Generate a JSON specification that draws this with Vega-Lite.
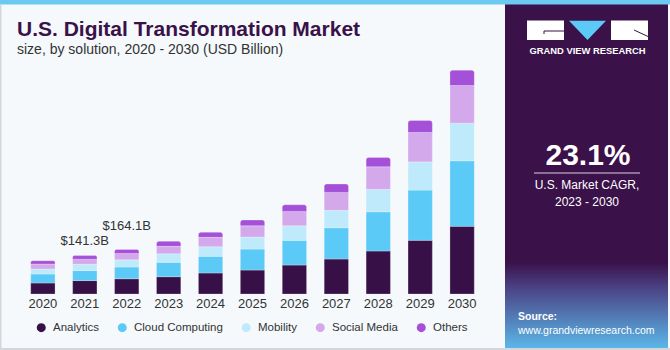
{
  "$schema": "https://vega.github.io/schema/vega-lite/v6.json",
  "width": 505,
  "height": 294,
  "autosize": "none",
  "padding": {"left": 0, "top": 0, "right": 165, "bottom": 56},
  "background": "#f5f9fc",
  "title": {
    "text": "U.S. Digital Transformation Market",
    "subtitle": "size, by solution, 2020 - 2030 (USD Billion)",
    "anchor": "start",
    "frame": "group",
    "dx": 17,
    "offset": -57,
    "font": "Liberation Sans",
    "fontSize": 21,
    "fontWeight": "bold",
    "color": "#3a1149",
    "subtitleFont": "Liberation Sans",
    "subtitleFontSize": 14,
    "subtitleColor": "#333333",
    "subtitlePadding": 3
  },
  "datasets": {
    "market": [
      {"year": "2020", "segment": "Analytics", "value": 40.4},
      {"year": "2020", "segment": "Cloud Computing", "value": 33.1},
      {"year": "2020", "segment": "Mobility", "value": 18.4},
      {"year": "2020", "segment": "Social Media", "value": 18.4},
      {"year": "2020", "segment": "Others", "value": 12.1},
      {"year": "2021", "segment": "Analytics", "value": 49.4},
      {"year": "2021", "segment": "Cloud Computing", "value": 36.8},
      {"year": "2021", "segment": "Mobility", "value": 23.5},
      {"year": "2021", "segment": "Social Media", "value": 18.4},
      {"year": "2021", "segment": "Others", "value": 13.2},
      {"year": "2022", "segment": "Analytics", "value": 56.1},
      {"year": "2022", "segment": "Cloud Computing", "value": 43.0},
      {"year": "2022", "segment": "Mobility", "value": 26.8},
      {"year": "2022", "segment": "Social Media", "value": 23.5},
      {"year": "2022", "segment": "Others", "value": 14.7},
      {"year": "2023", "segment": "Analytics", "value": 63.6},
      {"year": "2023", "segment": "Cloud Computing", "value": 52.9},
      {"year": "2023", "segment": "Mobility", "value": 31.6},
      {"year": "2023", "segment": "Social Media", "value": 27.2},
      {"year": "2023", "segment": "Others", "value": 18.4},
      {"year": "2024", "segment": "Analytics", "value": 77.2},
      {"year": "2024", "segment": "Cloud Computing", "value": 61.4},
      {"year": "2024", "segment": "Mobility", "value": 35.3},
      {"year": "2024", "segment": "Social Media", "value": 34.6},
      {"year": "2024", "segment": "Others", "value": 18.4},
      {"year": "2025", "segment": "Analytics", "value": 88.2},
      {"year": "2025", "segment": "Cloud Computing", "value": 77.2},
      {"year": "2025", "segment": "Mobility", "value": 44.1},
      {"year": "2025", "segment": "Social Media", "value": 41.5},
      {"year": "2025", "segment": "Others", "value": 21.0},
      {"year": "2026", "segment": "Analytics", "value": 106.6},
      {"year": "2026", "segment": "Cloud Computing", "value": 90.8},
      {"year": "2026", "segment": "Mobility", "value": 53.7},
      {"year": "2026", "segment": "Social Media", "value": 52.9},
      {"year": "2026", "segment": "Others", "value": 24.3},
      {"year": "2027", "segment": "Analytics", "value": 128.7},
      {"year": "2027", "segment": "Cloud Computing", "value": 115.1},
      {"year": "2027", "segment": "Mobility", "value": 64.0},
      {"year": "2027", "segment": "Social Media", "value": 66.2},
      {"year": "2027", "segment": "Others", "value": 30.5},
      {"year": "2028", "segment": "Analytics", "value": 158.1},
      {"year": "2028", "segment": "Cloud Computing", "value": 144.5},
      {"year": "2028", "segment": "Mobility", "value": 82.4},
      {"year": "2028", "segment": "Social Media", "value": 83.1},
      {"year": "2028", "segment": "Others", "value": 34.6},
      {"year": "2029", "segment": "Analytics", "value": 197.4},
      {"year": "2029", "segment": "Cloud Computing", "value": 184.9},
      {"year": "2029", "segment": "Mobility", "value": 104.0},
      {"year": "2029", "segment": "Social Media", "value": 108.1},
      {"year": "2029", "segment": "Others", "value": 44.1},
      {"year": "2030", "segment": "Analytics", "value": 248.9},
      {"year": "2030", "segment": "Cloud Computing", "value": 241.2},
      {"year": "2030", "segment": "Mobility", "value": 138.6},
      {"year": "2030", "segment": "Social Media", "value": 138.6},
      {"year": "2030", "segment": "Others", "value": 56.3}
    ],
    "labels": [
      {"year": "2021", "total": 141.3, "label": "$141.3B"},
      {"year": "2022", "total": 164.1, "label": "$164.1B"}
    ]
  },
  "layer": [
    {
      "data": {"values": [{}]},
      "mark": {"type": "rect", "color": "#3a1149"},
      "encoding": {"x": {"value": 505}, "x2": {"value": 668}, "y": {"value": 4}, "y2": {"value": 348}}
    },
    {
      "data": {"values": [{}]},
      "mark": {
        "type": "rect",
        "fill": {
          "gradient": "linear", "x1": 0, "y1": 0, "x2": 0, "y2": 1,
          "stops": [
            {"offset": 0, "color": "#3a1149"},
            {"offset": 0.28, "color": "#4a3f82"},
            {"offset": 1, "color": "#5bb7e8"}
          ]
        }
      },
      "encoding": {"x": {"value": 505}, "x2": {"value": 668}, "y": {"value": 262}, "y2": {"value": 348}}
    },
    {
      "data": {"values": [{}]},
      "mark": {"type": "rect", "color": "#6ccaf0"},
      "encoding": {"x": {"value": 0}, "x2": {"value": 670}, "y": {"value": 0}, "y2": {"value": 4.5}}
    },
    {
      "data": {"values": [{}]},
      "mark": {"type": "rect", "color": "#d3d6da"},
      "encoding": {"x": {"value": 0}, "x2": {"value": 670}, "y": {"value": 348}, "y2": {"value": 350}}
    },
    {
      "data": {"values": [{}]},
      "mark": {"type": "rect", "color": "#d3d6da"},
      "encoding": {"x": {"value": 0}, "x2": {"value": 1.5}, "y": {"value": 4.5}, "y2": {"value": 350}}
    },
    {
      "data": {"name": "market"},
      "transform": [
        {"calculate": "indexof(['Analytics','Cloud Computing','Mobility','Social Media','Others'], datum.segment)", "as": "ord"},
        {"stack": "value", "groupby": ["year"], "sort": [{"field": "ord", "order": "ascending"}], "as": ["v0", "v1"]},
        {"filter": "datum.segment !== 'Others'"}
      ],
      "mark": {"type": "bar", "stroke": "#ffffff", "strokeOpacity": 0.35, "strokeWidth": 0.7},
      "encoding": {
        "x": {
          "field": "year", "type": "ordinal",
          "scale": {"paddingInner": 0.42, "paddingOuter": 0.733},
          "axis": {"title": null, "labelAngle": 0, "domain": false, "ticks": false, "tickSize": 0, "labelPadding": 3, "labelFontSize": 13, "labelColor": "#333333", "labelFont": "Liberation Sans", "grid": false}
        },
        "y": {"field": "v1", "type": "quantitative", "scale": {"domain": [0, 1082], "nice": false, "zero": true}, "axis": null},
        "y2": {"field": "v0"},
        "color": {
          "field": "segment", "type": "nominal",
          "scale": {
            "domain": ["Analytics", "Cloud Computing", "Mobility", "Social Media", "Others"],
            "range": ["#381048", "#5ccaf6", "#bfeafb", "#d4a9ec", "#a550d8"]
          },
          "legend": {
            "title": null, "orient": "none", "legendX": 35.5, "legendY": 321.5,
            "direction": "horizontal", "symbolType": "circle", "symbolSize": 81,
            "symbolStrokeWidth": 0, "labelFontSize": 11.5, "labelColor": "#333333",
            "labelFont": "Liberation Sans", "labelOffset": 6, "columnPadding": 17, "padding": 0
          }
        }
      }
    },
    {
      "data": {"name": "market"},
      "transform": [
        {"calculate": "indexof(['Analytics','Cloud Computing','Mobility','Social Media','Others'], datum.segment)", "as": "ord"},
        {"stack": "value", "groupby": ["year"], "sort": [{"field": "ord", "order": "ascending"}], "as": ["v0", "v1"]},
        {"filter": "datum.segment === 'Others'"}
      ],
      "mark": {"type": "bar", "cornerRadiusTopLeft": 2.5, "cornerRadiusTopRight": 2.5, "stroke": "#ffffff", "strokeOpacity": 0.35, "strokeWidth": 0.7},
      "encoding": {
        "x": {"field": "year", "type": "ordinal"},
        "y": {"field": "v1", "type": "quantitative"},
        "y2": {"field": "v0"},
        "color": {"field": "segment", "type": "nominal"}
      }
    },
    {
      "data": {"name": "labels"},
      "transform": [{"filter": "datum.year === '2021'"}],
      "mark": {"type": "text", "baseline": "alphabetic", "align": "center", "dy": -11, "fontSize": 13, "font": "Liberation Sans", "color": "#333333"},
      "encoding": {"x": {"field": "year", "type": "ordinal"}, "y": {"field": "total", "type": "quantitative"}, "text": {"field": "label"}}
    },
    {
      "data": {"name": "labels"},
      "transform": [{"filter": "datum.year === '2022'"}],
      "mark": {"type": "text", "baseline": "alphabetic", "align": "center", "dy": -19.5, "fontSize": 13, "font": "Liberation Sans", "color": "#333333"},
      "encoding": {"x": {"field": "year", "type": "ordinal"}, "y": {"field": "total", "type": "quantitative"}, "text": {"field": "label"}}
    },
    {
      "data": {"values": [{}]},
      "mark": {"type": "rect", "color": "#ffffff"},
      "encoding": {"x": {"value": 527}, "x2": {"value": 564}, "y": {"value": 20.5}, "y2": {"value": 40}}
    },
    {
      "data": {"values": [{}]},
      "mark": {"type": "rect", "color": "#ffffff"},
      "encoding": {"x": {"value": 611}, "x2": {"value": 648}, "y": {"value": 20.5}, "y2": {"value": 40}}
    },
    {
      "data": {"values": [{}]},
      "mark": {"type": "point", "filled": true, "color": "#5ccaf6", "opacity": 1, "shape": "M-1,-0.52L1,-0.52L0,0.52Z", "size": 1369},
      "encoding": {"x": {"value": 587.5}, "y": {"value": 30.3}}
    },
    {
      "data": {"values": [{}]},
      "mark": {"type": "rule", "color": "#3a1149", "strokeWidth": 1},
      "encoding": {"x": {"value": 544}, "x2": {"value": 564}, "y": {"value": 31}, "y2": {"value": 31}}
    },
    {
      "data": {"values": [{}]},
      "mark": {"type": "rule", "color": "#3a1149", "strokeWidth": 1},
      "encoding": {"x": {"value": 544}, "x2": {"value": 544}, "y": {"value": 31}, "y2": {"value": 34}}
    },
    {
      "data": {"values": [{}]},
      "mark": {"type": "rule", "color": "#3a1149", "strokeWidth": 1},
      "encoding": {"x": {"value": 634}, "x2": {"value": 648}, "y": {"value": 30}, "y2": {"value": 36.5}}
    },
    {
      "data": {"values": [{"t": "GRAND VIEW RESEARCH"}]},
      "mark": {"type": "text", "align": "center", "baseline": "alphabetic", "font": "Liberation Sans", "fontWeight": "bold", "fontSize": 9.4, "color": "#ffffff"},
      "encoding": {"x": {"value": 587.5}, "y": {"value": 53.5}, "text": {"field": "t"}}
    },
    {
      "data": {"values": [{"t": "23.1%"}]},
      "mark": {"type": "text", "align": "center", "baseline": "alphabetic", "font": "Liberation Sans", "fontWeight": "bold", "fontSize": 30, "color": "#ffffff"},
      "encoding": {"x": {"value": 588}, "y": {"value": 165}, "text": {"field": "t"}}
    },
    {
      "data": {"values": [{}]},
      "mark": {"type": "rule", "color": "#d9d2e0", "strokeWidth": 1.2},
      "encoding": {"x": {"value": 534}, "x2": {"value": 640}, "y": {"value": 173}, "y2": {"value": 173}}
    },
    {
      "data": {"values": [{"t": "U.S. Market CAGR,\n2023 - 2030"}]},
      "mark": {"type": "text", "align": "center", "baseline": "alphabetic", "lineBreak": "\n", "lineHeight": 17.5, "font": "Liberation Sans", "fontSize": 12, "color": "#ffffff"},
      "encoding": {"x": {"value": 587}, "y": {"value": 188.5}, "text": {"field": "t"}}
    },
    {
      "data": {"values": [{"t": "Source:"}]},
      "mark": {"type": "text", "align": "left", "baseline": "alphabetic", "font": "Liberation Sans", "fontWeight": "bold", "fontSize": 10.5, "color": "#ffffff"},
      "encoding": {"x": {"value": 518}, "y": {"value": 319.5}, "text": {"field": "t"}}
    },
    {
      "data": {"values": [{"t": "www.grandviewresearch.com"}]},
      "mark": {"type": "text", "align": "left", "baseline": "alphabetic", "font": "Liberation Sans", "fontSize": 10.5, "color": "#ffffff"},
      "encoding": {"x": {"value": 518}, "y": {"value": 334}, "text": {"field": "t"}}
    }
  ],
  "config": {
    "view": {"stroke": null},
    "font": "Liberation Sans"
  }
}
